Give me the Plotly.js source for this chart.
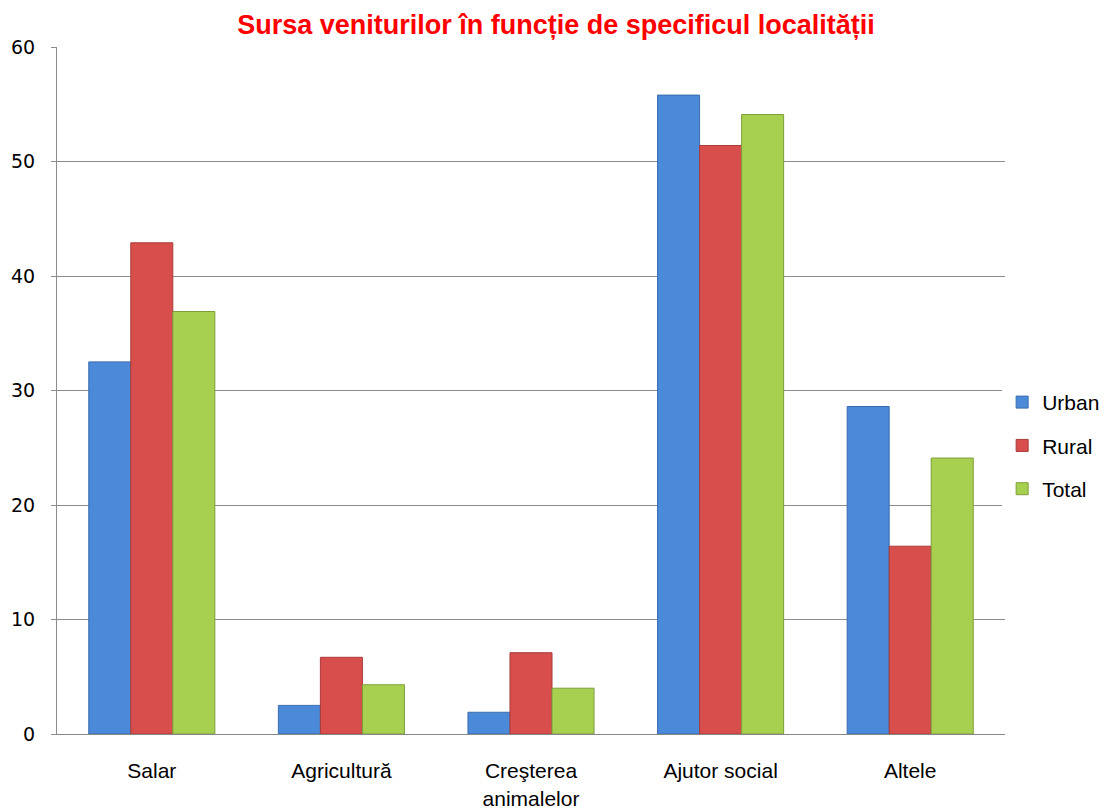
<!DOCTYPE html>
<html>
<head>
<meta charset="utf-8">
<script src="https://cdn.plot.ly/plotly-3.0.1.min.js"></script>
<style>html,body{margin:0;padding:0;background:#fff;}</style>
</head>
<body>
<div id="chart" style="width:1112px;height:812px;"></div>
<script>
const categories = ["Salar", "Agricultură", "Creşterea<br>animalelor", "Ajutor social", "Altele"];
const urban = [32.5, 2.5, 1.9, 55.8, 28.6];
const rural = [42.9, 6.7, 7.1, 51.4, 16.4];
const total = [36.9, 4.3, 4.0, 54.1, 24.1];
const seriesNames = ["Urban", "Rural", "Total"];
const yTicks = [0, 10, 20, 30, 40, 50, 60];

const colors = ["#4A8AD8", "#D84E4C", "#A8D050"];
const lines = ["#3B6DAE", "#A83C3A", "#7E9E3A"];
const data = [urban, rural, total].map((vals, i) => ({
  type: "bar",
  name: seriesNames[i],
  legendgroup: seriesNames[i],
  x: categories,
  y: vals,
  marker: {color: colors[i], line: {color: lines[i], width: 1}},
  hoverinfo: "x+y+name"
}));

const layout = {
  width: 1112, height: 812,
  margin: {l: 57, r: 107, t: 47, b: 78, autoexpand: false},
  paper_bgcolor: "#fff", plot_bgcolor: "#fff",
  title: {text: "Sursa veniturilor în funcție de specificul localității",
    font: {family: "Liberation Sans Narrow, Arial Narrow, sans-serif", size: 27, color: "#FF0000", weight: "bold"},
    x: 0.5, xanchor: "center", y: 0.97, yanchor: "middle"},
  barmode: "group",
  bargap: 0.335,
  bargroupgap: 0,
  xaxis: {showgrid: false, showline: true, linecolor: "#888", linewidth: 1, ticks: "",
    ticklabelstandoff: 18,
    tickfont: {family: "Liberation Sans, Arial, sans-serif", size: 21, color: "#000"}},
  yaxis: {range: [0, 60], tickvals: yTicks, ticktext: yTicks.map(String), showgrid: true, gridcolor: "#8c8c8c", gridwidth: 1,
    showline: true, linecolor: "#8c8c8c", zeroline: false, ticks: "outside", ticklen: 5, tickcolor: "#8c8c8c",
    ticklabelstandoff: 12,
    tickfont: {family: "DejaVu Sans, Verdana, sans-serif", size: 19, color: "#000"}},
  showlegend: true,
  legend: {x: 0.997, xanchor: "left", y: 0.42, yanchor: "middle",
    font: {family: "Liberation Sans, Arial, sans-serif", size: 21, color: "#000"},
    itemwidth: 30, tracegroupgap: 13, traceorder: "grouped"}
};

Plotly.newPlot("chart", data, layout, {displayModeBar: false});
</script>
</body>
</html>
